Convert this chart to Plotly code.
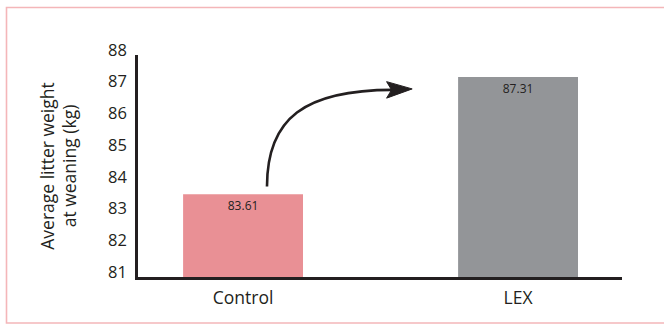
import plotly.graph_objects as go

# Average litter weight at weaning per treatment group
groups = ["Control", "LEX"]
litter_weight = [83.61, 87.31]
bar_colors = ["#e99095", "#939598"]
y_ticks = [81, 82, 83, 84, 85, 86, 87, 88]

TEXT = "#231f20"
FONT = "Open Sans"

W, H = 664, 325
L, R, T, B = 138, 42, 55, 48
plot_w, plot_h = W - L - R, H - T - B

x_range = [-0.382, 1.378]
y_range = [81, 88]

fig = go.Figure(
    go.Bar(
        x=groups,
        y=litter_weight,
        marker=dict(color=bar_colors, line=dict(width=0)),
        width=0.436,
        texttemplate="%{y:.2f}",
        textposition="inside",
        insidetextanchor="end",
        textangle=0,
        constraintext="none",
        textfont=dict(family=FONT, size=12, color=TEXT),
        hoverinfo="skip",
    )
)

# Curved arrow rising from the Control bar towards the LEX bar
ctrl, lex = litter_weight
sx, sy = 0.087, ctrl + 0.24
c1x, c1y = 0.087, ctrl + 2.40
c2x, c2y = 0.225, lex - 0.41
ex, ey = 0.545, lex - 0.41
curve = f"M {sx},{sy} C {c1x},{c1y} {c2x},{c2y} {ex},{ey}"
head = (
    f"M 0.615,{lex - 0.38} L 0.522,{lex - 0.15} "
    f"L 0.540,{lex - 0.41} L 0.522,{lex - 0.67} Z"
)

shapes = [
    dict(type="path", path=curve, xref="x", yref="y",
         line=dict(color=TEXT, width=2.6)),
    dict(type="path", path=head, xref="x", yref="y",
         fillcolor=TEXT, line=dict(color=TEXT, width=1)),
    # Light pink frame around the whole figure
    dict(type="rect", xref="paper", yref="paper",
         x0=(6.5 - L) / plot_w, x1=(W + 10 - L) / plot_w,
         y0=(H - B - 323) / plot_h, y1=(H - B - 7.5) / plot_h,
         line=dict(color="#f4b6b9", width=1.6), layer="below"),
]

fig.update_layout(
    width=W,
    height=H,
    margin=dict(l=L, r=R, t=T, b=B, pad=0),
    paper_bgcolor="white",
    plot_bgcolor="white",
    showlegend=False,
    font=dict(family=FONT, color=TEXT),
    shapes=shapes,
    xaxis=dict(
        type="category",
        range=x_range,
        showgrid=False,
        zeroline=False,
        showline=True,
        linecolor=TEXT,
        linewidth=2.5,
        ticks="",
        tickfont=dict(family=FONT, size=17.5, color=TEXT),
        ticklabelstandoff=3,
        fixedrange=True,
    ),
    yaxis=dict(
        range=y_range,
        tickvals=y_ticks,
        showgrid=False,
        zeroline=False,
        showline=True,
        linecolor=TEXT,
        linewidth=2.5,
        ticks="",
        tickfont=dict(family=FONT, size=16.5, color=TEXT),
        ticklabelstandoff=5,
        ticklabelshift=-5,
        title=dict(
            text="Average litter weight<br>at weaning (kg)",
            font=dict(family=FONT, size=17.5, color=TEXT),
            standoff=27,
        ),
        fixedrange=True,
    ),
)

fig.write_html("out.html")
